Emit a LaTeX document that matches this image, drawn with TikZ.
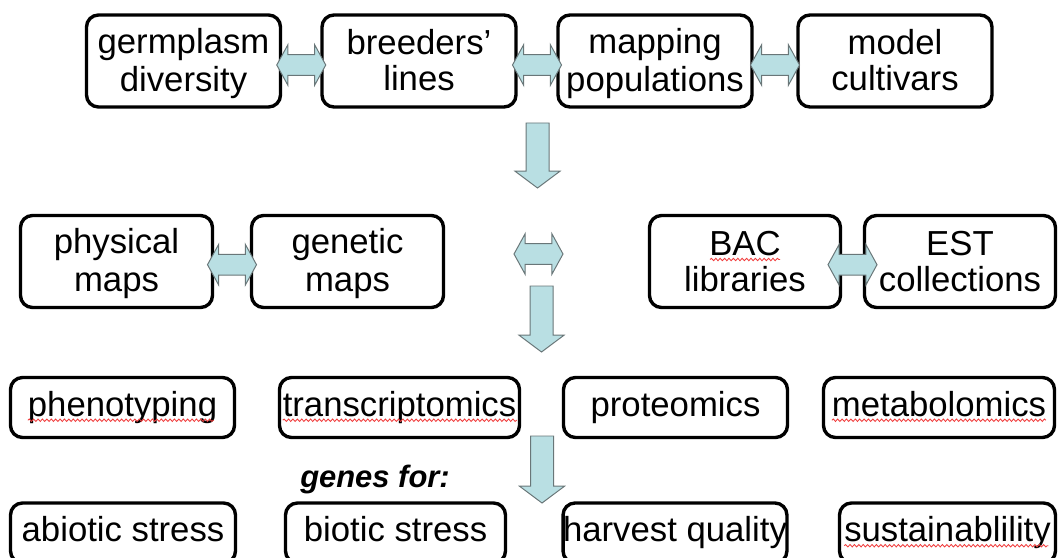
\documentclass[tikz,border=0pt]{standalone}
\usepackage{fontspec}
\setmainfont{Liberation Sans}
\usetikzlibrary{calc,decorations.pathmorphing}
\definecolor{arrfill}{RGB}{185,223,227}
\definecolor{arrbdr}{RGB}{105,118,120}
\definecolor{boxbdr}{RGB}{0,0,0}
\definecolor{spellred}{RGB}{240,60,60}
\tikzset{
  bx/.style={rectangle,rounded corners=0.3cm,draw=boxbdr,line width=2.4pt,
    fill=white,inner sep=0pt,font=\fontsize{24.7}{25.6}\selectfont},
  tblk/.style={bx,align=center,minimum width=4.85cm,minimum height=2.3cm},
  sblk/.style={bx,minimum height=1.5cm,text height=17.3pt,text depth=4.9pt},
  blkarr/.style={fill=arrfill,draw=arrbdr,line width=0.7pt,line join=miter},
  spl/.style={draw=spellred,line width=0.6pt,decorate,
    decoration={snake,segment length=0.11cm,amplitude=0.03cm}},
  genes/.style={font=\fontsize{22}{22}\selectfont\bfseries\itshape,anchor=base},
}
% line strut, so both lines sit like in a slide text box
\newcommand{\ls}{\rule[-4pt]{0pt}{25pt}}
% block double arrow centred on #1
\newcommand{\dblarr}[1]{%
  \path[blkarr] let \p1=(#1) in
    (\x1-0.6125cm,\y1) -- (\x1-0.3325cm,\y1+0.51cm) -- (\x1-0.3325cm,\y1+0.26cm)
    -- (\x1+0.3325cm,\y1+0.26cm) -- (\x1+0.3325cm,\y1+0.51cm) -- (\x1+0.6125cm,\y1)
    -- (\x1+0.3325cm,\y1-0.51cm) -- (\x1+0.3325cm,\y1-0.26cm)
    -- (\x1-0.3325cm,\y1-0.26cm) -- (\x1-0.3325cm,\y1-0.51cm) -- cycle;}
% block arrow pointing down from #1 to #2
\newcommand{\dnarr}[2]{%
  \path[blkarr] let \p1=(#1), \p2=(#2) in
    (\x1-0.2875cm,\y1) -- (\x1+0.2875cm,\y1) -- (\x1+0.2875cm,\y2+0.42cm)
    -- (\x1+0.5625cm,\y2+0.42cm) -- (\x1,\y2) -- (\x1-0.5625cm,\y2+0.42cm)
    -- (\x1-0.2875cm,\y2+0.42cm) -- cycle;}

\begin{document}
\begin{tikzpicture}
  \useasboundingbox (0,0) rectangle (26.45,-13.95);
  \clip (0,0) rectangle (26.45,-13.95);
  % plant material
  \node[tblk] (germ)  at (4.5875,-1.525) {\ls germplasm\\\ls diversity};
  \node[tblk] (breed) at (10.475,-1.525) {\ls breeders'\\\ls lines};
  \node[tblk] (mapp)  at (16.375,-1.525) {\ls mapping\\\ls populations};
  \node[tblk] (model) at (22.375,-1.525) {\ls model\\\ls cultivars};
  % maps and libraries
  \node[tblk,minimum width=4.8cm]  (phys) at (2.9125,-6.5375) {\ls physical\\\ls maps};
  \node[tblk,minimum width=4.8cm]  (gen)  at (8.6875,-6.5375) {\ls genetic\\\ls maps};
  \node[tblk,minimum width=4.775cm] (bac) at (18.625,-6.5375) {\ls BAC\\\ls libraries};
  \node[tblk,minimum width=4.775cm] (est) at (24.0,-6.5375) {\ls EST\\\ls collections};
  % omics
  \node[sblk,minimum width=5.6cm]   (pheno) at (3.0625,-10.1875) {phenotyping};
  \node[sblk,minimum width=6.0cm]   (trans) at (9.9875,-10.1875) {transcriptomics};
  \node[sblk,minimum width=5.6cm]   (prot)  at (16.8875,-10.1875) {proteomics};
  \node[sblk,minimum width=5.775cm] (metab) at (23.475,-10.1875) {metabolomics};
  % genes for
  \node[genes] (gfor) at (9.375,-12.175) {genes for:};
  \node[sblk,minimum width=5.625cm] (abio) at (3.075,-13.325) {abiotic stress};
  \node[sblk,minimum width=5.5cm]   (bio)  at (9.8875,-13.325) {biotic stress};
  \node[sblk,minimum width=5.575cm] (harv) at (16.875,-13.325) {harvest quality};
  \node[sblk,minimum width=5.4cm]   (sust) at (23.6875,-13.325) {sustainablility};

  % links
  \dblarr{$(germ.east)!0.5!(breed.west)+(0,-0.1)$}
  \dblarr{$(breed.east)!0.5!(mapp.west)+(0,-0.1)$}
  \dblarr{$(mapp.east)!0.5!(model.west)+(0,-0.1)$}
  \dblarr{$(phys.east)!0.5!(gen.west)+(0,-0.08)$}
  \dblarr{$(bac.east)!0.5!(est.west)+(0,-0.08)$}
  \coordinate (link) at (13.4625,-6.35);
  \dblarr{link}
  \coordinate (dn1a) at (13.4375,-3.075);
  \coordinate (dn1b) at (13.4375,-4.7);
  \coordinate (dn2a) at (13.5375,-7.15);
  \coordinate (dn2b) at (13.5375,-8.8);
  \coordinate (dn3a) at (13.55,-10.9);
  \coordinate (dn3b) at (13.55,-12.575);
  \dnarr{dn1a}{dn1b}
  \dnarr{dn2a}{dn2b}
  \dnarr{dn3a}{dn3b}

  % spelling marks
  \draw[spl] ($(pheno.text)+(0,-0.1)$) -- ++(4.65,0);
  \draw[spl] ($(trans.text)+(0,-0.1)$) -- ++(5.85,0);
  \draw[spl] ($(metab.text)+(0,-0.1)$) -- ++(5.35,0);
  \draw[spl] ($(sust.text)+(0,-0.1)$) -- ++(5.1,0);
  \draw[spl] ($(bac.center)+(-0.875,0.05)$) -- ++(1.75,0);
\end{tikzpicture}
\end{document}
